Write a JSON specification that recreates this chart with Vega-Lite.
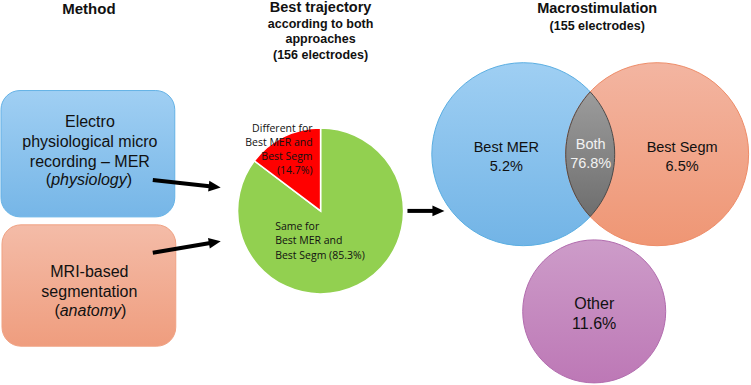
{
  "$schema": "https://vega.github.io/schema/vega-lite/v6.json",
  "width": 751,
  "height": 385,
  "autosize": {"type": "fit", "contains": "padding"},
  "padding": 0,
  "background": "white",
  "config": {"view": {"stroke": null}, "text": {"font": "Liberation Sans", "color": "#111111"}},
  "datasets": {
    "pie": [
      {"slice": "Same", "pct": 85.3, "label": "Same for\nBest MER and\nBest Segm (85.3%)"},
      {"slice": "Different", "pct": 14.7, "label": "Different for\nBest MER and\nBest Segm\n(14.7%)"}
    ],
    "venn": [
      {"region": "Best MER", "share": 0.052},
      {"region": "Both", "share": 0.768},
      {"region": "Best Segm", "share": 0.065},
      {"region": "Other", "share": 0.116}
    ],
    "titles": [
      {"id": "method", "text": "Method"},
      {"id": "traj1", "text": "Best trajectory"},
      {"id": "traj2", "text": "according to both\napproaches\n(156 electrodes)"},
      {"id": "macro1", "text": "Macrostimulation"},
      {"id": "macro2", "text": "(155 electrodes)"}
    ],
    "boxes": [
      {"id": "mer", "text": "Electro\nphysiological micro\nrecording – MER", "italic": "physiology"},
      {"id": "segm", "text": "MRI-based\nsegmentation", "italic": "anatomy"}
    ],
    "arrows": [
      {"id": "mer"},
      {"id": "segm"},
      {"id": "pie"}
    ]
  },
  "layer": [
    {
      "data": {"name": "titles"},
      "transform": [{"filter": "datum.id == 'method'"}],
      "mark": {"type": "text", "fontSize": 15, "fontWeight": "bold", "baseline": "middle"},
      "encoding": {
        "x": {"datum": 89, "type": "quantitative", "scale": {"domain": [0, 751], "nice": false, "zero": false}, "axis": null},
        "y": {"datum": 8, "type": "quantitative", "scale": {"domain": [0, 385], "reverse": true, "nice": false, "zero": false}, "axis": null},
        "text": {"field": "text"}
      }
    },
    {
      "data": {"name": "titles"},
      "transform": [{"filter": "datum.id == 'traj1'"}],
      "mark": {"type": "text", "fontSize": 14.5, "fontWeight": "bold", "baseline": "middle"},
      "encoding": {
        "x": {"datum": 321, "type": "quantitative", "scale": {"domain": [0, 751], "nice": false, "zero": false}, "axis": null},
        "y": {"datum": 7, "type": "quantitative", "scale": {"domain": [0, 385], "reverse": true, "nice": false, "zero": false}, "axis": null},
        "text": {"field": "text"}
      }
    },
    {
      "data": {"name": "titles"},
      "transform": [{"filter": "datum.id == 'traj2'"}],
      "mark": {"type": "text", "fontSize": 12.5, "fontWeight": "bold", "baseline": "middle", "lineBreak": "\n", "lineHeight": 15.5},
      "encoding": {
        "x": {"datum": 321, "type": "quantitative", "scale": {"domain": [0, 751], "nice": false, "zero": false}, "axis": null},
        "y": {"datum": 23, "type": "quantitative", "scale": {"domain": [0, 385], "reverse": true, "nice": false, "zero": false}, "axis": null},
        "text": {"field": "text"}
      }
    },
    {
      "data": {"name": "titles"},
      "transform": [{"filter": "datum.id == 'macro1'"}],
      "mark": {"type": "text", "fontSize": 14.5, "fontWeight": "bold", "baseline": "middle"},
      "encoding": {
        "x": {"datum": 598, "type": "quantitative", "scale": {"domain": [0, 751], "nice": false, "zero": false}, "axis": null},
        "y": {"datum": 8, "type": "quantitative", "scale": {"domain": [0, 385], "reverse": true, "nice": false, "zero": false}, "axis": null},
        "text": {"field": "text"}
      }
    },
    {
      "data": {"name": "titles"},
      "transform": [{"filter": "datum.id == 'macro2'"}],
      "mark": {"type": "text", "fontSize": 12.5, "fontWeight": "bold", "baseline": "middle"},
      "encoding": {
        "x": {"datum": 598, "type": "quantitative", "scale": {"domain": [0, 751], "nice": false, "zero": false}, "axis": null},
        "y": {"datum": 25, "type": "quantitative", "scale": {"domain": [0, 385], "reverse": true, "nice": false, "zero": false}, "axis": null},
        "text": {"field": "text"}
      }
    },
    {
      "data": {"name": "boxes"},
      "transform": [{"filter": "datum.id == 'mer'"}],
      "mark": {"type": "rect", "cornerRadius": 19, "stroke": "#64b2e6", "strokeWidth": 1,
        "fill": {"gradient": "linear", "x1": 0, "y1": 0, "x2": 0, "y2": 1, "stops": [{"offset": 0, "color": "#a0cff3"}, {"offset": 1, "color": "#76b6e7"}]}},
      "encoding": {
        "x": {"datum": 1, "type": "quantitative", "scale": {"domain": [0, 751], "nice": false, "zero": false}, "axis": null},
        "x2": {"datum": 175},
        "y": {"datum": 90, "type": "quantitative", "scale": {"domain": [0, 385], "reverse": true, "nice": false, "zero": false}, "axis": null},
        "y2": {"datum": 217}
      }
    },
    {
      "data": {"name": "boxes"},
      "transform": [{"filter": "datum.id == 'segm'"}],
      "mark": {"type": "rect", "cornerRadius": 19, "stroke": "#f0a283", "strokeWidth": 1,
        "fill": {"gradient": "linear", "x1": 0, "y1": 0, "x2": 0, "y2": 1, "stops": [{"offset": 0, "color": "#f4bca8"}, {"offset": 1, "color": "#ef9d7e"}]}},
      "encoding": {
        "x": {"datum": 2, "type": "quantitative", "scale": {"domain": [0, 751], "nice": false, "zero": false}, "axis": null},
        "x2": {"datum": 176},
        "y": {"datum": 225, "type": "quantitative", "scale": {"domain": [0, 385], "reverse": true, "nice": false, "zero": false}, "axis": null},
        "y2": {"datum": 347}
      }
    },
    {
      "data": {"name": "boxes"},
      "transform": [{"filter": "datum.id == 'mer'"}],
      "mark": {"type": "text", "fontSize": 16, "baseline": "middle", "lineBreak": "\n", "lineHeight": 20},
      "encoding": {
        "x": {"datum": 90, "type": "quantitative", "scale": {"domain": [0, 751], "nice": false, "zero": false}, "axis": null},
        "y": {"datum": 122, "type": "quantitative", "scale": {"domain": [0, 385], "reverse": true, "nice": false, "zero": false}, "axis": null},
        "text": {"field": "text"}
      }
    },
    {
      "data": {"name": "boxes"},
      "transform": [{"filter": "datum.id == 'mer'"}],
      "mark": {"type": "text", "fontSize": 16, "baseline": "middle", "align": "left"},
      "encoding": {
        "x": {"datum": 45.9, "type": "quantitative", "scale": {"domain": [0, 751], "nice": false, "zero": false}, "axis": null},
        "y": {"datum": 180, "type": "quantitative", "scale": {"domain": [0, 385], "reverse": true, "nice": false, "zero": false}, "axis": null},
        "text": {"value": "("}
      }
    },
    {
      "data": {"name": "boxes"},
      "transform": [{"filter": "datum.id == 'mer'"}],
      "mark": {"type": "text", "fontSize": 16, "baseline": "middle", "align": "left", "fontStyle": "italic"},
      "encoding": {
        "x": {"datum": 51.2, "type": "quantitative", "scale": {"domain": [0, 751], "nice": false, "zero": false}, "axis": null},
        "y": {"datum": 180, "type": "quantitative", "scale": {"domain": [0, 385], "reverse": true, "nice": false, "zero": false}, "axis": null},
        "text": {"field": "italic"}
      }
    },
    {
      "data": {"name": "boxes"},
      "transform": [{"filter": "datum.id == 'mer'"}],
      "mark": {"type": "text", "fontSize": 16, "baseline": "middle", "align": "left"},
      "encoding": {
        "x": {"datum": 126.8, "type": "quantitative", "scale": {"domain": [0, 751], "nice": false, "zero": false}, "axis": null},
        "y": {"datum": 180, "type": "quantitative", "scale": {"domain": [0, 385], "reverse": true, "nice": false, "zero": false}, "axis": null},
        "text": {"value": ")"}
      }
    },
    {
      "data": {"name": "boxes"},
      "transform": [{"filter": "datum.id == 'segm'"}],
      "mark": {"type": "text", "fontSize": 16, "baseline": "middle", "lineBreak": "\n", "lineHeight": 20},
      "encoding": {
        "x": {"datum": 89.5, "type": "quantitative", "scale": {"domain": [0, 751], "nice": false, "zero": false}, "axis": null},
        "y": {"datum": 272, "type": "quantitative", "scale": {"domain": [0, 385], "reverse": true, "nice": false, "zero": false}, "axis": null},
        "text": {"field": "text"}
      }
    },
    {
      "data": {"name": "boxes"},
      "transform": [{"filter": "datum.id == 'segm'"}],
      "mark": {"type": "text", "fontSize": 16, "baseline": "middle", "align": "left"},
      "encoding": {
        "x": {"datum": 54.5, "type": "quantitative", "scale": {"domain": [0, 751], "nice": false, "zero": false}, "axis": null},
        "y": {"datum": 312, "type": "quantitative", "scale": {"domain": [0, 385], "reverse": true, "nice": false, "zero": false}, "axis": null},
        "text": {"value": "("}
      }
    },
    {
      "data": {"name": "boxes"},
      "transform": [{"filter": "datum.id == 'segm'"}],
      "mark": {"type": "text", "fontSize": 16, "baseline": "middle", "align": "left", "fontStyle": "italic"},
      "encoding": {
        "x": {"datum": 59.8, "type": "quantitative", "scale": {"domain": [0, 751], "nice": false, "zero": false}, "axis": null},
        "y": {"datum": 312, "type": "quantitative", "scale": {"domain": [0, 385], "reverse": true, "nice": false, "zero": false}, "axis": null},
        "text": {"field": "italic"}
      }
    },
    {
      "data": {"name": "boxes"},
      "transform": [{"filter": "datum.id == 'segm'"}],
      "mark": {"type": "text", "fontSize": 16, "baseline": "middle", "align": "left"},
      "encoding": {
        "x": {"datum": 121.2, "type": "quantitative", "scale": {"domain": [0, 751], "nice": false, "zero": false}, "axis": null},
        "y": {"datum": 312, "type": "quantitative", "scale": {"domain": [0, 385], "reverse": true, "nice": false, "zero": false}, "axis": null},
        "text": {"value": ")"}
      }
    },
    {
      "data": {"name": "arrows"},
      "transform": [{"filter": "datum.id == 'mer'"}],
      "mark": {"type": "rule", "color": "black", "strokeWidth": 4},
      "encoding": {
        "x": {"datum": 153, "type": "quantitative", "scale": {"domain": [0, 751], "nice": false, "zero": false}, "axis": null},
        "x2": {"datum": 212},
        "y": {"datum": 180, "type": "quantitative", "scale": {"domain": [0, 385], "reverse": true, "nice": false, "zero": false}, "axis": null},
        "y2": {"datum": 186.5}
      }
    },
    {
      "data": {"name": "arrows"},
      "transform": [{"filter": "datum.id == 'mer'"}],
      "mark": {"type": "point", "shape": "M1,0L-1,-0.9L-1,0.9Z", "size": 144, "angle": 6.3, "filled": true, "color": "black", "opacity": 1},
      "encoding": {
        "x": {"datum": 215, "type": "quantitative", "scale": {"domain": [0, 751], "nice": false, "zero": false}, "axis": null},
        "y": {"datum": 186.8, "type": "quantitative", "scale": {"domain": [0, 385], "reverse": true, "nice": false, "zero": false}, "axis": null}
      }
    },
    {
      "data": {"name": "arrows"},
      "transform": [{"filter": "datum.id == 'segm'"}],
      "mark": {"type": "rule", "color": "black", "strokeWidth": 4},
      "encoding": {
        "x": {"datum": 153, "type": "quantitative", "scale": {"domain": [0, 751], "nice": false, "zero": false}, "axis": null},
        "x2": {"datum": 212},
        "y": {"datum": 253, "type": "quantitative", "scale": {"domain": [0, 385], "reverse": true, "nice": false, "zero": false}, "axis": null},
        "y2": {"datum": 243}
      }
    },
    {
      "data": {"name": "arrows"},
      "transform": [{"filter": "datum.id == 'segm'"}],
      "mark": {"type": "point", "shape": "M1,0L-1,-0.9L-1,0.9Z", "size": 144, "angle": -9.6, "filled": true, "color": "black", "opacity": 1},
      "encoding": {
        "x": {"datum": 215.1, "type": "quantitative", "scale": {"domain": [0, 751], "nice": false, "zero": false}, "axis": null},
        "y": {"datum": 242.5, "type": "quantitative", "scale": {"domain": [0, 385], "reverse": true, "nice": false, "zero": false}, "axis": null}
      }
    },
    {
      "data": {"name": "arrows"},
      "transform": [{"filter": "datum.id == 'pie'"}],
      "mark": {"type": "rule", "color": "black", "strokeWidth": 4},
      "encoding": {
        "x": {"datum": 408, "type": "quantitative", "scale": {"domain": [0, 751], "nice": false, "zero": false}, "axis": null},
        "x2": {"datum": 436},
        "y": {"datum": 211, "type": "quantitative", "scale": {"domain": [0, 385], "reverse": true, "nice": false, "zero": false}, "axis": null},
        "y2": {"datum": 211}
      }
    },
    {
      "data": {"name": "arrows"},
      "transform": [{"filter": "datum.id == 'pie'"}],
      "mark": {"type": "point", "shape": "M1,0L-1,-0.9L-1,0.9Z", "size": 144, "angle": 0, "filled": true, "color": "black", "opacity": 1},
      "encoding": {
        "x": {"datum": 439, "type": "quantitative", "scale": {"domain": [0, 751], "nice": false, "zero": false}, "axis": null},
        "y": {"datum": 211, "type": "quantitative", "scale": {"domain": [0, 385], "reverse": true, "nice": false, "zero": false}, "axis": null}
      }
    },
    {
      "data": {"name": "pie"},
      "mark": {"type": "arc", "outerRadius": 83, "stroke": "white", "strokeWidth": 1.5},
      "encoding": {
        "x": {"datum": 321, "type": "quantitative", "scale": {"domain": [0, 751], "nice": false, "zero": false}, "axis": null},
        "y": {"datum": 211, "type": "quantitative", "scale": {"domain": [0, 385], "reverse": true, "nice": false, "zero": false}, "axis": null},
        "theta": {"field": "pct", "type": "quantitative", "stack": true},
        "order": {"field": "pct", "sort": "descending"},
        "color": {"field": "slice", "type": "nominal", "scale": {"domain": ["Same", "Different"], "range": ["#92d050", "#ff0000"]}, "legend": null}
      }
    },
    {
      "data": {"name": "pie"},
      "transform": [{"filter": "datum.slice == 'Different'"}],
      "mark": {"type": "text", "font": "Open Sans", "fontSize": 10.5, "align": "right", "baseline": "middle", "lineBreak": "\n", "lineHeight": 14},
      "encoding": {
        "x": {"datum": 313, "type": "quantitative", "scale": {"domain": [0, 751], "nice": false, "zero": false}, "axis": null},
        "y": {"datum": 129, "type": "quantitative", "scale": {"domain": [0, 385], "reverse": true, "nice": false, "zero": false}, "axis": null},
        "text": {"field": "label"}
      }
    },
    {
      "data": {"name": "pie"},
      "transform": [{"filter": "datum.slice == 'Same'"}],
      "mark": {"type": "text", "font": "Open Sans", "fontSize": 10.5, "align": "left", "baseline": "middle", "lineBreak": "\n", "lineHeight": 14.5},
      "encoding": {
        "x": {"datum": 275.5, "type": "quantitative", "scale": {"domain": [0, 751], "nice": false, "zero": false}, "axis": null},
        "y": {"datum": 227, "type": "quantitative", "scale": {"domain": [0, 385], "reverse": true, "nice": false, "zero": false}, "axis": null},
        "text": {"field": "label"}
      }
    },
    {
      "data": {"name": "venn"},
      "transform": [{"filter": "datum.region == 'Best MER'"}],
      "mark": {"type": "point", "shape": "circle", "size": 33489, "filled": true, "opacity": 1, "stroke": "#5aaee2", "strokeWidth": 1,
        "fill": {"gradient": "linear", "x1": 0, "y1": 0, "x2": 0, "y2": 1, "stops": [{"offset": 0, "color": "#9fcff3"}, {"offset": 1, "color": "#72b4e6"}]}},
      "encoding": {
        "x": {"datum": 524, "type": "quantitative", "scale": {"domain": [0, 751], "nice": false, "zero": false}, "axis": null},
        "y": {"datum": 154, "type": "quantitative", "scale": {"domain": [0, 385], "reverse": true, "nice": false, "zero": false}, "axis": null}
      }
    },
    {
      "data": {"name": "venn"},
      "transform": [{"filter": "datum.region == 'Best Segm'"}],
      "mark": {"type": "point", "shape": "circle", "size": 33489, "filled": true, "opacity": 1, "stroke": "#ee8c68", "strokeWidth": 1,
        "fill": {"gradient": "linear", "x1": 0, "y1": 0, "x2": 0, "y2": 1, "stops": [{"offset": 0, "color": "#f3b5a1"}, {"offset": 1, "color": "#ef9674"}]}},
      "encoding": {
        "x": {"datum": 658, "type": "quantitative", "scale": {"domain": [0, 751], "nice": false, "zero": false}, "axis": null},
        "y": {"datum": 154, "type": "quantitative", "scale": {"domain": [0, 385], "reverse": true, "nice": false, "zero": false}, "axis": null}
      }
    },
    {
      "data": {"name": "venn"},
      "transform": [{"filter": "datum.region == 'Both'"}],
      "mark": {"type": "point", "shape": "M0,-1A1.4687,1.4687,0,0,1,0,1A1.4687,1.4687,0,0,1,0,-1Z", "size": 15525, "filled": true, "opacity": 1, "stroke": "#4a4a4a", "strokeWidth": 1,
        "fill": {"gradient": "linear", "x1": 0, "y1": 0, "x2": 0, "y2": 1, "stops": [{"offset": 0, "color": "#9c9c9c"}, {"offset": 1, "color": "#6e6e6e"}]}},
      "encoding": {
        "x": {"datum": 591, "type": "quantitative", "scale": {"domain": [0, 751], "nice": false, "zero": false}, "axis": null},
        "y": {"datum": 154, "type": "quantitative", "scale": {"domain": [0, 385], "reverse": true, "nice": false, "zero": false}, "axis": null}
      }
    },
    {
      "data": {"name": "venn"},
      "transform": [{"filter": "datum.region == 'Other'"}],
      "mark": {"type": "point", "shape": "circle", "size": 20449, "filled": true, "opacity": 1, "stroke": "#b26cae", "strokeWidth": 1,
        "fill": {"gradient": "linear", "x1": 0, "y1": 0, "x2": 0, "y2": 1, "stops": [{"offset": 0, "color": "#cd9cc9"}, {"offset": 1, "color": "#bd78b6"}]}},
      "encoding": {
        "x": {"datum": 595, "type": "quantitative", "scale": {"domain": [0, 751], "nice": false, "zero": false}, "axis": null},
        "y": {"datum": 312, "type": "quantitative", "scale": {"domain": [0, 385], "reverse": true, "nice": false, "zero": false}, "axis": null}
      }
    },
    {
      "data": {"name": "venn"},
      "transform": [{"filter": "datum.region == 'Best MER'"}],
      "mark": {"type": "text", "fontSize": 14.5, "baseline": "middle"},
      "encoding": {
        "x": {"datum": 507, "type": "quantitative", "scale": {"domain": [0, 751], "nice": false, "zero": false}, "axis": null},
        "y": {"datum": 148, "type": "quantitative", "scale": {"domain": [0, 385], "reverse": true, "nice": false, "zero": false}, "axis": null},
        "text": {"field": "region"}
      }
    },
    {
      "data": {"name": "venn"},
      "transform": [{"filter": "datum.region == 'Best MER'"}],
      "mark": {"type": "text", "fontSize": 14.5, "baseline": "middle"},
      "encoding": {
        "x": {"datum": 507, "type": "quantitative", "scale": {"domain": [0, 751], "nice": false, "zero": false}, "axis": null},
        "y": {"datum": 167, "type": "quantitative", "scale": {"domain": [0, 385], "reverse": true, "nice": false, "zero": false}, "axis": null},
        "text": {"field": "share", "type": "quantitative", "format": ".1%"}
      }
    },
    {
      "data": {"name": "venn"},
      "transform": [{"filter": "datum.region == 'Both'"}],
      "mark": {"type": "text", "fontSize": 14.5, "baseline": "middle", "color": "#f2f2f2"},
      "encoding": {
        "x": {"datum": 591.5, "type": "quantitative", "scale": {"domain": [0, 751], "nice": false, "zero": false}, "axis": null},
        "y": {"datum": 145, "type": "quantitative", "scale": {"domain": [0, 385], "reverse": true, "nice": false, "zero": false}, "axis": null},
        "text": {"field": "region"}
      }
    },
    {
      "data": {"name": "venn"},
      "transform": [{"filter": "datum.region == 'Both'"}],
      "mark": {"type": "text", "fontSize": 14.5, "baseline": "middle", "color": "#f2f2f2"},
      "encoding": {
        "x": {"datum": 591.5, "type": "quantitative", "scale": {"domain": [0, 751], "nice": false, "zero": false}, "axis": null},
        "y": {"datum": 163.5, "type": "quantitative", "scale": {"domain": [0, 385], "reverse": true, "nice": false, "zero": false}, "axis": null},
        "text": {"field": "share", "type": "quantitative", "format": ".1%"}
      }
    },
    {
      "data": {"name": "venn"},
      "transform": [{"filter": "datum.region == 'Best Segm'"}],
      "mark": {"type": "text", "fontSize": 14.5, "baseline": "middle"},
      "encoding": {
        "x": {"datum": 683, "type": "quantitative", "scale": {"domain": [0, 751], "nice": false, "zero": false}, "axis": null},
        "y": {"datum": 148, "type": "quantitative", "scale": {"domain": [0, 385], "reverse": true, "nice": false, "zero": false}, "axis": null},
        "text": {"field": "region"}
      }
    },
    {
      "data": {"name": "venn"},
      "transform": [{"filter": "datum.region == 'Best Segm'"}],
      "mark": {"type": "text", "fontSize": 14.5, "baseline": "middle"},
      "encoding": {
        "x": {"datum": 683, "type": "quantitative", "scale": {"domain": [0, 751], "nice": false, "zero": false}, "axis": null},
        "y": {"datum": 167, "type": "quantitative", "scale": {"domain": [0, 385], "reverse": true, "nice": false, "zero": false}, "axis": null},
        "text": {"field": "share", "type": "quantitative", "format": ".1%"}
      }
    },
    {
      "data": {"name": "venn"},
      "transform": [{"filter": "datum.region == 'Other'"}],
      "mark": {"type": "text", "fontSize": 16, "baseline": "middle"},
      "encoding": {
        "x": {"datum": 595, "type": "quantitative", "scale": {"domain": [0, 751], "nice": false, "zero": false}, "axis": null},
        "y": {"datum": 305, "type": "quantitative", "scale": {"domain": [0, 385], "reverse": true, "nice": false, "zero": false}, "axis": null},
        "text": {"field": "region"}
      }
    },
    {
      "data": {"name": "venn"},
      "transform": [{"filter": "datum.region == 'Other'"}],
      "mark": {"type": "text", "fontSize": 16, "baseline": "middle"},
      "encoding": {
        "x": {"datum": 595, "type": "quantitative", "scale": {"domain": [0, 751], "nice": false, "zero": false}, "axis": null},
        "y": {"datum": 325, "type": "quantitative", "scale": {"domain": [0, 385], "reverse": true, "nice": false, "zero": false}, "axis": null},
        "text": {"field": "share", "type": "quantitative", "format": ".1%"}
      }
    }
  ]
}
